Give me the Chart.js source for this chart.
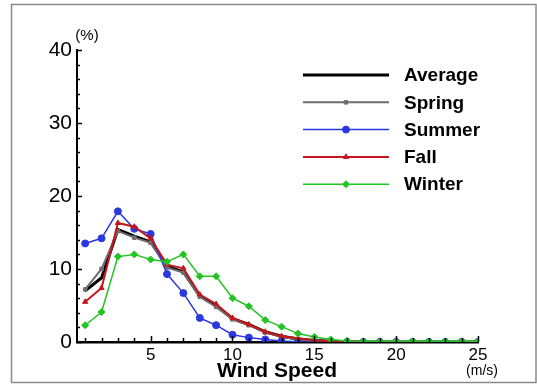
<!DOCTYPE html>
<html>
<head>
<meta charset="utf-8">
<script src="https://cdn.jsdelivr.net/npm/chart.js@4/dist/chart.umd.min.js"></script>
<style>
  html, body { margin: 0; padding: 0; background: #fff; }
  #wrap { width: 537px; height: 385px; }
</style>
</head>
<body>
<div id="wrap"><canvas id="chart"></canvas></div>
<script>
const speeds = [1,2,3,4,5,6,7,8,9,10,11,12,13,14,15,16,17,18,19,20,21,22,23,24,25];
const average = [7.0, 8.8, 15.4, 14.5, 13.7, 10.4, 9.6, 6.3, 5.0, 3.2, 2.4, 1.4, 0.8, 0.4, 0.2, 0.1, 0.05, 0, 0, 0, 0, 0, 0, 0, 0];
const spring  = [7.2, 10.0, 15.2, 14.3, 13.6, 10.2, 9.5, 6.2, 4.8, 3.1, 2.3, 1.3, 0.7, 0.35, 0.15, 0.05, 0, 0, 0, 0, 0, 0, 0, 0, 0];
const summer  = [13.5, 14.2, 17.9, 15.5, 14.8, 9.3, 6.7, 3.3, 2.3, 1.0, 0.6, 0.35, 0.15, 0.05, 0, 0, 0, 0, 0, 0, 0, 0, 0, 0, 0];
const fall    = [5.5, 7.4, 16.3, 15.8, 14.2, 10.6, 10.1, 6.5, 5.2, 3.3, 2.4, 1.4, 0.8, 0.5, 0.25, 0.1, 0.05, 0, 0, 0, 0, 0, 0, 0, 0];
const winter  = [2.3, 4.1, 11.7, 12.0, 11.3, 11.0, 12.0, 9.0, 9.0, 6.0, 4.9, 3.0, 2.1, 1.15, 0.7, 0.35, 0.15, 0.1, 0.1, 0.1, 0.1, 0.1, 0.1, 0.1, 0.1];
const xTicks = [5, 10, 15, 20, 25];
const yTicks = [0, 10, 20, 30, 40];

const font = '"Liberation Sans", Arial, sans-serif';

function pts(arr) {
    return arr.map((v, i) => ({x: speeds[i], y: v}));
}

// ticks inside the axes, frame, axis units and the legend
const extras = {
    id: 'extras',
    afterDraw(chart) {
        const ctx = chart.ctx;
        const xs = chart.scales.x, ys = chart.scales.y;
        const a = chart.chartArea;
        ctx.save();
        ctx.strokeStyle = '#000';
        ctx.lineWidth = 1.5;
        ctx.beginPath();
        for (let v = 0; v <= 40; v += 2) {
            const py = Math.round(ys.getPixelForValue(v)) + 0.5;
            const len = v % 10 === 0 ? 5 : 3;
            ctx.moveTo(a.left, py);
            ctx.lineTo(a.left + len, py);
        }
        for (let v = 1; v <= 25; v++) {
            const px = Math.round(xs.getPixelForValue(v)) + 0.5;
            const len = v % 5 === 0 ? 6 : 4;
            ctx.moveTo(px, a.bottom);
            ctx.lineTo(px, a.bottom - len);
        }
        ctx.stroke();

        // frame
        ctx.strokeStyle = '#8a8a8a';
        ctx.lineWidth = 1.5;
        ctx.strokeRect(11.5, 4.5, 524.5, 378);

        ctx.fillStyle = '#000';
        ctx.textAlign = 'center';
        ctx.textBaseline = 'middle';
        ctx.font = '15px ' + font;
        ctx.fillText('(%)', 87, 36);
        ctx.font = '14px ' + font;
        ctx.fillText('(m/s)', 482, 371);
        ctx.font = 'bold 21px ' + font;
        ctx.textBaseline = 'alphabetic';
        ctx.fillText('Wind Speed', 277, 377);

        // legend
        ctx.textAlign = 'left';
        ctx.textBaseline = 'middle';
        ctx.font = 'bold 19px ' + font;
        chart.data.datasets.forEach((ds, i) => {
            const y = 75 + i * 27.3;
            ctx.strokeStyle = ds.borderColor;
            ctx.lineWidth = ds.borderWidth;
            ctx.beginPath();
            ctx.moveTo(303, y);
            ctx.lineTo(389, y);
            ctx.stroke();
            if (ds.pointRadius > 0) {
                ctx.fillStyle = ds.borderColor;
                ctx.strokeStyle = ds.borderColor;
                ctx.lineWidth = 1;
                Chart.helpers.drawPoint(ctx, {
                    pointStyle: ds.pointStyle,
                    radius: ds.pointRadius,
                    rotation: 0,
                    borderWidth: 1
                }, 346, y);
            }
            ctx.fillStyle = '#000';
            ctx.fillText(ds.label, 404, y + 1);
        });
        ctx.restore();
    }
};

function series(label, data, color, width, style, radius, order) {
    return {
        label: label,
        data: pts(data),
        borderColor: color,
        backgroundColor: color,
        borderWidth: width,
        pointStyle: style,
        pointRadius: radius,
        pointBorderWidth: 1,
        pointHoverRadius: radius,
        tension: 0,
        order: order
    };
}

const ctx = document.getElementById('chart').getContext('2d');
const myChart = new Chart(ctx, {
    type: 'line',
    data: {
        datasets: [
            series('Average', average, '#000000', 3, 'circle', 0, 5),
            series('Spring', spring, '#6e6e6e', 2, 'rect', 2.5, 4),
            series('Summer', summer, '#2b38e0', 1.5, 'circle', 3.5, 3),
            series('Fall', fall, '#c4161c', 2, 'triangle', 3, 2),
            series('Winter', winter, '#22c422', 1.5, 'rectRot', 3.5, 1)
        ]
    },
    options: {
        responsive: true,
        maintainAspectRatio: false,
        animation: false,
        events: [],
        layout: { padding: { left: 0, top: 50, right: 59, bottom: 0 } },
        plugins: {
            legend: { display: false },
            tooltip: { enabled: false }
        },
        scales: {
            x: {
                type: 'linear',
                min: 0.5,
                max: 25,
                afterFit: s => { s.height = 43; },
                afterBuildTicks: s => { s.ticks = xTicks.map(v => ({value: v})); },
                grid: { display: true, drawOnChartArea: false, drawTicks: false },
                border: { display: true, color: '#000', width: 2.5 },
                ticks: { color: '#000', padding: 3, font: { family: font, size: 17 } }
            },
            y: {
                min: 0,
                max: 40,
                afterFit: s => { s.width = 77; },
                afterBuildTicks: s => { s.ticks = yTicks.map(v => ({value: v})); },
                grid: { display: true, drawOnChartArea: false, drawTicks: false },
                border: { display: true, color: '#000', width: 2 },
                ticks: { color: '#000', padding: 5, font: { family: font, size: 21 } }
            }
        }
    },
    plugins: [extras]
});
</script>
</body>
</html>
